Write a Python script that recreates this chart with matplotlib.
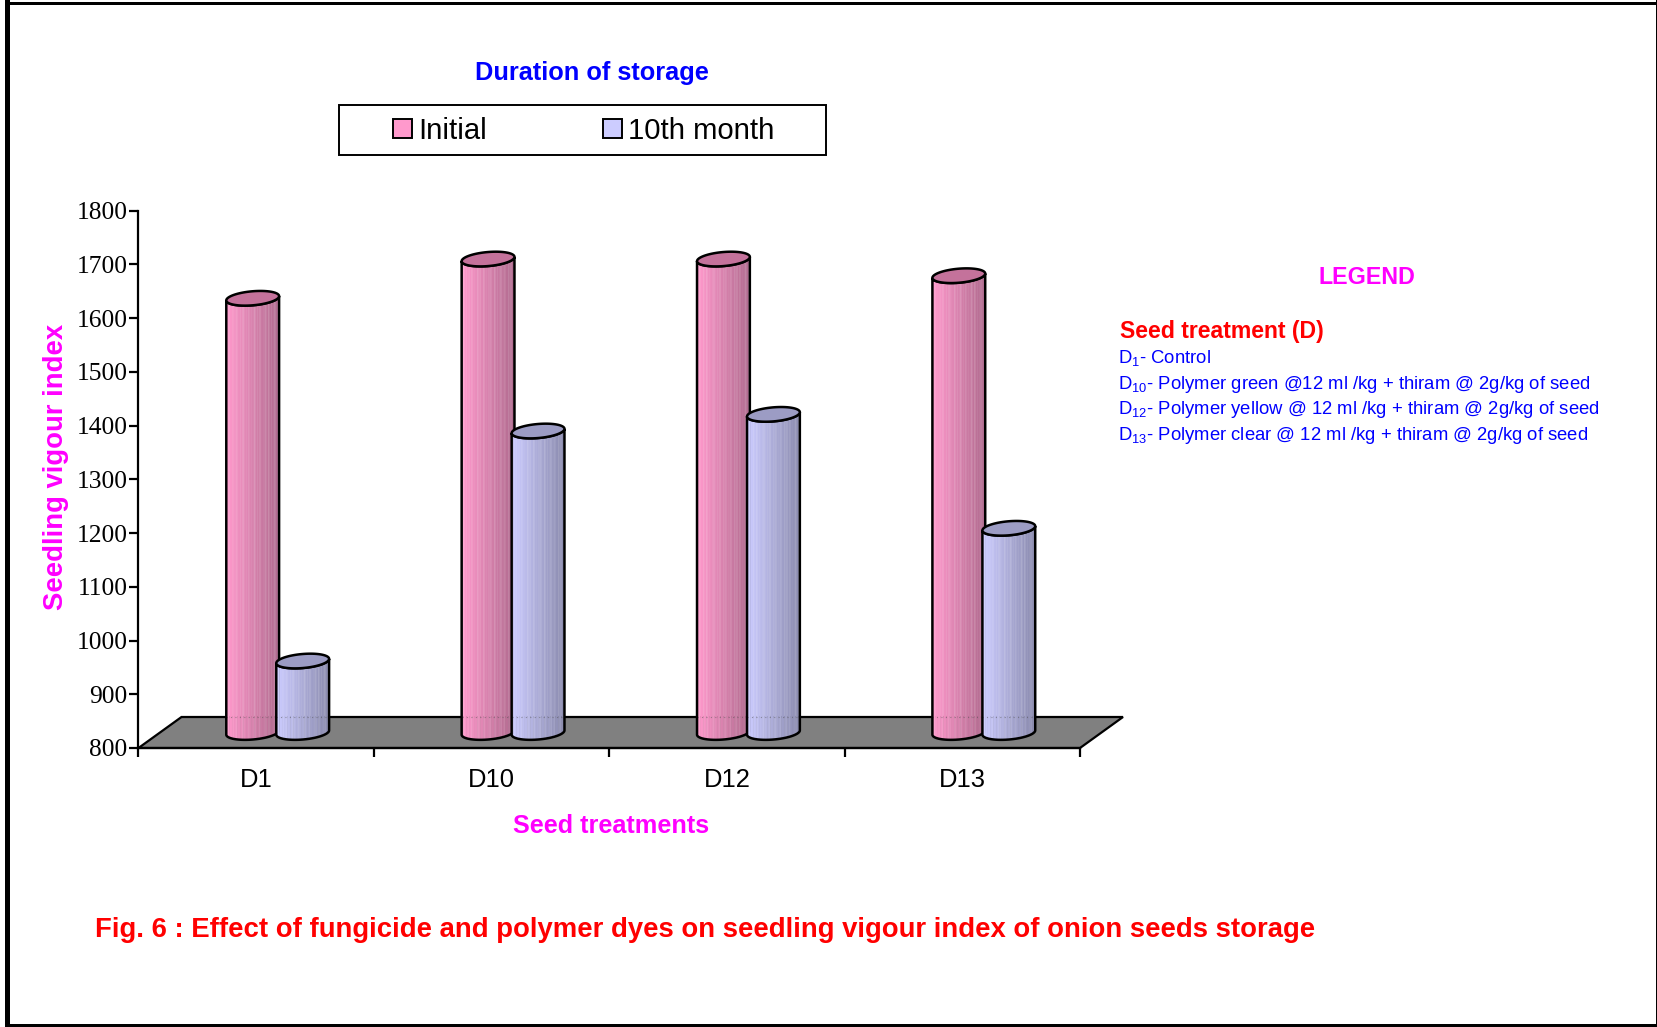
import numpy as np
import matplotlib
matplotlib.use("Agg")
import matplotlib.pyplot as plt
from matplotlib.patches import Rectangle, Polygon, Patch
from matplotlib.collections import PolyCollection
from matplotlib.transforms import IdentityTransform

categories = ["D1", "D10", "D12", "D13"]
initial = [1608, 1681, 1681, 1650]
month10 = [933, 1361, 1392, 1180]
series_names = ["Initial", "10th month"]
yticks = list(range(800, 1900, 100))

W, H = 1658, 1027
plt.rcParams["font.family"] = ["Liberation Sans", "DejaVu Sans"]
plt.rcParams["mathtext.default"] = "regular"
fig = plt.figure(figsize=(W / 100, H / 100), dpi=100, facecolor="white")

def fx(x): return x / W
def fy(y): return 1 - y / H
def px(s): return s * 0.72

L, R, T, B = 138.5, 1080, 210.6, 748
ax = fig.add_axes([fx(L), fy(B), (R - L) / W, (B - T) / H], zorder=2)
ax.patch.set_alpha(0)
ax.set_xlim(0, 4)
ax.set_ylim(800, 1800)
for s in ("top", "right"):
    ax.spines[s].set_visible(False)
for s in ("left", "bottom"):
    ax.spines[s].set_linewidth(1.6)
ax.set_yticks(yticks)
ax.set_yticklabels([str(v) for v in yticks], family="Liberation Serif", fontsize=px(25.5))
ax.set_xticks(range(5))
ax.set_xticklabels([])
ax.tick_params(axis="y", length=6.5, width=1.6, pad=1.5)
ax.tick_params(axis="x", length=6.5, width=1.6)
for i, c in enumerate(categories):
    fig.text(fx(L + (R - L) * (i + 0.5) / 4), fy(780), c, ha="center", va="center", fontsize=px(25.5))

DX, DY = 43, 31  # floor depth, px


def to_disp(x, v):
    p = ax.transData.transform((x, v))
    return p[0], p[1]


x0, y0 = to_disp(0, 800)
x1, _ = to_disp(4, 800)
ax.add_artist(Polygon([(x0, y0), (x1, y0), (x1 + DX, y0 + DY), (x0 + DX, y0 + DY)], closed=True,
                      facecolor="#808080", edgecolor="black", lw=1.6,
                      transform=IdentityTransform(), zorder=1, clip_on=False))

STRIPES = [0, 1, 0, 0, 0.5, 0, 1, 0, 0, 0, 1, 0.5, 0, 0, 1, 0, 0, 0.5, 1, 0, 0, 1, 0, 0, 0.5, 1, 0, 1, 0, 0, 0.5, 1, 0, 1]


def cylinder(xc, value, light, dark, top, zo):
    cx, base = to_disp(xc, 800)
    _, ytop = to_disp(xc, value)
    cx += DX / 2
    base += DY / 2
    ytop += DY / 2
    a, b = 26.5, 7.0
    tilt = np.deg2rad(5)

    def ell(t, yc):
        return (cx + a * np.cos(t) * np.cos(tilt) - b * np.sin(t) * np.sin(tilt),
                yc + a * np.cos(t) * np.sin(tilt) + b * np.sin(t) * np.cos(tilt))

    t = np.linspace(0, 2 * np.pi, 241)
    t0 = np.arctan2(-b * np.sin(tilt), a * np.cos(tilt))
    tl = np.linspace(t0 + np.pi, t0 + 2 * np.pi, 120)
    bx, by = ell(tl, base)
    tx, ty = ell(tl, ytop)
    body = np.column_stack([np.r_[bx, tx[::-1]], np.r_[by, ty[::-1]]])
    n = 34
    edges = np.linspace(bx[0], bx[-1], n + 1)
    polys, cols = [], []
    cl, cd = np.array(matplotlib.colors.to_rgb(light)), np.array(matplotlib.colors.to_rgb(dark))
    for k in range(n):
        xs = np.array([edges[k], edges[k + 1]])
        yb = np.interp(xs, bx, by)
        yt = np.interp(xs, tx, ty)
        polys.append([(xs[0], yb[0]), (xs[1] + 0.4, yb[1]), (xs[1] + 0.4, yt[1]), (xs[0], yt[0])])
        f = k / (n - 1)
        c = cl * (1 - f) + cd * f
        c = c + (1 - c) * 0.10 * STRIPES[k]
        cols.append(c)
    ax.add_artist(PolyCollection(polys, facecolors=cols, edgecolors="none",
                                 transform=IdentityTransform(), zorder=zo, clip_on=False))
    fl_y = y0 + DY
    ax.add_artist(plt.Line2D([bx[0], bx[-1]], [fl_y, fl_y], color="#555555", lw=0.8, ls=(0, (1, 3)),
                             alpha=0.5, transform=IdentityTransform(), zorder=zo, clip_on=False))
    ax.add_artist(Polygon(body, closed=True, fill=False, edgecolor="black", lw=1.8,
                          transform=IdentityTransform(), zorder=zo + 0.1, clip_on=False))
    ex, ey = ell(t, ytop)
    ax.add_artist(Polygon(np.column_stack([ex, ey]), closed=True, facecolor=top, edgecolor="black", lw=1.8,
                          transform=IdentityTransform(), zorder=zo + 0.2, clip_on=False))


OFF = 25 / ((R - L) / 4)
for i in range(4):
    cylinder(i + 0.5 - OFF, initial[i], "#FF99CC", "#B06A8E", "#C4729B", 3 + i)
    cylinder(i + 0.5 + OFF, month10[i], "#CCCCFF", "#8A8AAE", "#9C9CC4", 3.5 + i)

# page border: uneven bars as in the scan
for (bx0, by0, bw, bh) in [(5, 0, 5, H), (5, 2, W - 5, 3), (W - 2, 0, 2, H), (5, H - 3, W - 5, 3)]:
    fig.add_artist(Rectangle((fx(bx0), fy(by0 + bh)), bw / W, bh / H, transform=fig.transFigure,
                             facecolor="black", edgecolor="none", zorder=10))

# series legend
fig.add_artist(Rectangle((fx(339), fy(155)), 487 / W, 50 / H, transform=fig.transFigure,
                         facecolor="white", edgecolor="black", lw=1.4))
handles = [Patch(facecolor="#FF99CC", edgecolor="black", lw=1.4, label=series_names[0]),
           Patch(facecolor="#CCCCFF", edgecolor="black", lw=1.4, label=series_names[1])]
fs = 29.3
fig.legend(handles=handles, ncol=2, loc="center", bbox_to_anchor=(fx(583.5), fy(131)), frameon=False,
           fontsize=px(fs), handlelength=19 / fs, handleheight=19 / fs, handletextpad=6 / fs,
           columnspacing=116 / fs, borderpad=0, borderaxespad=0)

BLUE, RED, MAG = "#0000FF", "#FF0000", "#FF00FF"
fig.text(fx(592), fy(73), "Duration of storage", color=BLUE, weight="bold", fontsize=px(25.35), ha="center", va="center")
fig.text(fx(56), fy(467), "Seedling vigour index", color=MAG, weight="bold", fontsize=px(27.5), rotation=90,
         ha="center", va="center")
fig.text(fx(611), fy(826), "Seed treatments", color=MAG, weight="bold", fontsize=px(25.3), ha="center", va="center")
fig.text(fx(95), fy(930), "Fig. 6 : Effect of fungicide and polymer dyes on seedling vigour index of onion seeds storage",
         color=RED, weight="bold", fontsize=px(27.53), ha="left", va="center")
fig.text(fx(1367), fy(278), "LEGEND", color=MAG, weight="bold", fontsize=px(23.2), ha="center", va="center")
fig.text(fx(1120.5), fy(331), "Seed treatment (D)", color=RED, weight="bold", fontsize=px(23), ha="left", va="center")
notes = ["D$_{1}$- Control",
         "D$_{10}$- Polymer green @12 ml /kg + thiram @ 2g/kg of seed",
         "D$_{12}$- Polymer yellow @ 12 ml /kg + thiram @ 2g/kg of seed",
         "D$_{13}$- Polymer clear @ 12 ml /kg + thiram @ 2g/kg of seed"]
for y, s in zip([355.5, 381.5, 406.5, 433], notes):
    fig.text(fx(1118.5), fy(y), s, color=BLUE, fontsize=px(18.45), ha="left", va="center_baseline")

fig.savefig("out.png", dpi=100)
